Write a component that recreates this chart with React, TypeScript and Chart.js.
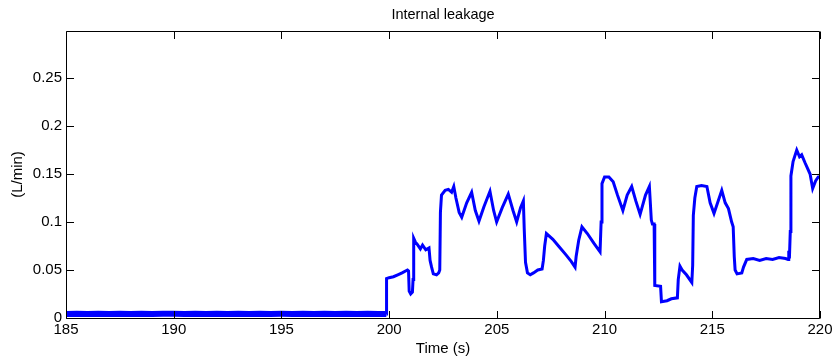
import React, { useEffect, useRef } from "react";
import { Chart, registerables } from "chart.js";

Chart.register(...registerables);

const chartTitle = "Internal leakage";

const baseTimes = [
  185, 185.5, 186, 186.5, 187, 187.5, 188, 188.5, 189, 189.5, 190, 190.5, 191, 191.5,
  192, 192.5, 193, 193.5, 194, 194.5, 195, 195.5, 196, 196.5, 197, 197.5, 198, 198.5,
  199, 199.5, 199.87,
];
const baseValues = [
  0.0042, 0.0044, 0.0041, 0.0043, 0.0042, 0.0044, 0.0041, 0.0043, 0.0042, 0.0045, 0.0043, 0.0042,
  0.0044, 0.0042, 0.0043, 0.0041, 0.0043, 0.0042, 0.0044, 0.0042, 0.0043, 0.0042, 0.0044, 0.0041,
  0.0043, 0.0042, 0.0043, 0.0041, 0.0043, 0.0042, 0.0042,
];

const leakTimes = [
  199.88, 200.0, 200.2, 200.4, 200.6, 200.85, 200.9, 200.93, 201.0, 201.08, 201.11, 201.14,
  201.22, 201.3, 201.45, 201.55, 201.7, 201.85, 201.9, 201.97, 202.05, 202.2, 202.3, 202.35,
  202.38, 202.43, 202.6, 202.75, 202.9, 203.0, 203.1, 203.25, 203.37, 203.6, 203.83, 204.0,
  204.17, 204.4, 204.68, 204.85, 204.99, 205.25, 205.53, 205.75, 205.92, 206.1, 206.23, 206.27,
  206.33, 206.42, 206.55, 206.7, 206.9, 207.1, 207.16, 207.22, 207.3, 207.6, 207.9, 208.2,
  208.45, 208.63, 208.68, 208.8, 208.95, 209.2, 209.5, 209.79, 209.84, 209.88, 210.0, 210.2,
  210.4, 210.6, 210.85, 211.05, 211.26, 211.45, 211.65, 211.9, 212.08, 212.17, 212.22, 212.3,
  212.33, 212.6, 212.64, 212.9, 213.1, 213.38, 213.42, 213.5, 213.6, 213.8, 214.05, 214.09,
  214.12, 214.19, 214.28, 214.5, 214.75, 214.9, 215.08, 215.44, 215.6, 215.75, 215.9, 215.97,
  216.02, 216.06, 216.15, 216.37, 216.45, 216.6, 216.9, 217.2, 217.5, 217.8, 218.1, 218.4,
  218.52, 218.55, 218.58, 218.62, 218.65, 218.75, 218.92, 219.05, 219.15, 219.3, 219.54, 219.66,
  219.8, 219.92, 220.0,
];
const leakValues = [
  0.041, 0.042, 0.043, 0.045, 0.047, 0.05, 0.049, 0.028, 0.025, 0.027, 0.04, 0.083,
  0.079, 0.077, 0.072, 0.076, 0.071, 0.073, 0.06, 0.053, 0.046, 0.045, 0.047, 0.05,
  0.11, 0.128, 0.133, 0.134, 0.131, 0.137, 0.125, 0.11, 0.105, 0.12, 0.131, 0.112,
  0.101, 0.116, 0.132, 0.112, 0.1, 0.115, 0.129, 0.112, 0.1, 0.115, 0.122, 0.093,
  0.058, 0.047, 0.045, 0.047, 0.05, 0.051, 0.06, 0.075, 0.088, 0.082, 0.074, 0.066,
  0.059, 0.053, 0.064, 0.081, 0.095, 0.088, 0.078, 0.069, 0.1, 0.14, 0.147, 0.147,
  0.142, 0.128, 0.112, 0.128, 0.137, 0.122, 0.108, 0.128, 0.137, 0.102, 0.098, 0.098,
  0.034, 0.033, 0.017, 0.018, 0.02, 0.021, 0.04, 0.054, 0.05, 0.045, 0.037, 0.055,
  0.107, 0.125, 0.137, 0.138, 0.137, 0.12, 0.109, 0.133, 0.12, 0.114, 0.1, 0.095,
  0.064, 0.05, 0.046, 0.047, 0.053, 0.061, 0.062, 0.06, 0.062, 0.061, 0.063, 0.062,
  0.061, 0.07, 0.062, 0.09, 0.148, 0.163, 0.175, 0.168, 0.17, 0.162, 0.15, 0.135,
  0.143, 0.147, 0.147,
];

const xTickValues = [185, 190, 195, 200, 205, 210, 215, 220];
const yTickValues = [0, 0.05, 0.1, 0.15, 0.2, 0.25];

const FONT = "'Liberation Sans', Arial, Helvetica, sans-serif";

const matlabBox = {
  id: "matlabBox",
  afterDatasetsDraw(chart: any) {
    const { ctx, chartArea } = chart;
    const { left, right, top, bottom } = chartArea;
    const xs = chart.scales.x;
    const ys = chart.scales.y;
    const L = 7.5;
    ctx.save();
    ctx.strokeStyle = "#000";
    ctx.lineWidth = 1;
    const l = Math.round(left) + 0.5;
    const r = Math.round(right) - 0.5;
    const t = Math.round(top) + 0.5;
    const b = Math.round(bottom) + 0.5;
    ctx.beginPath();
    ctx.rect(l, t, r - l, b - t);
    ctx.stroke();
    ctx.beginPath();
    xTickValues.forEach((v) => {
      const px = Math.round(xs.getPixelForValue(v)) + 0.5;
      ctx.moveTo(px, b);
      ctx.lineTo(px, b - L);
      ctx.moveTo(px, t);
      ctx.lineTo(px, t + L);
    });
    yTickValues.forEach((v) => {
      const py = Math.round(ys.getPixelForValue(v)) + 0.5;
      ctx.moveTo(l, py);
      ctx.lineTo(l + L, py);
      ctx.moveTo(r, py);
      ctx.lineTo(r - L, py);
    });
    ctx.stroke();
    ctx.fillStyle = "#000";
    ctx.font = `14.5px ${FONT}`;
    ctx.textAlign = "center";
    ctx.textBaseline = "middle";
    ctx.fillText(chartTitle, (left + right) / 2, 14.5);
    ctx.restore();
  },
};

export default function App() {
  const ref = useRef<HTMLCanvasElement | null>(null);
  useEffect(() => {
    if (!ref.current) return;
    const points = [
      ...baseTimes.map((t, i) => ({ x: t, y: baseValues[i] })),
      ...leakTimes.map((t, i) => ({ x: t, y: leakValues[i] })),
    ];
    const chart = new Chart(ref.current, {
      type: "line",
      data: {
        datasets: [
          {
            data: points,
            borderColor: "#0000ff",
            borderWidth: 3,
            pointRadius: 0,
            tension: 0,
            fill: false,
            segment: {
              borderWidth: (c: any) => (c.p1.parsed.x < 199.88 ? 6 : 3),
            },
          },
        ],
      },
      options: {
        animation: false,
        responsive: false,
        layout: { padding: { left: 0, right: 17, top: 31, bottom: 0 } },
        plugins: {
          legend: { display: false },
          tooltip: { enabled: false },
          title: { display: false },
        },
        scales: {
          x: {
            type: "linear",
            min: 185,
            max: 220,
            afterFit: (s: any) => {
              s.height = 42;
            },
            afterBuildTicks: (s: any) => {
              s.ticks = xTickValues.map((v) => ({ value: v }));
            },
            grid: { display: false, drawTicks: false },
            border: { display: false },
            ticks: {
              color: "#000",
              padding: 3,
              maxRotation: 0,
              autoSkip: false,
              font: { family: FONT, size: 15 },
              callback: (v: any) => String(v),
            },
            title: {
              display: true,
              text: "Time (s)",
              color: "#000",
              font: { family: FONT, size: 15 },
              padding: { top: 0, bottom: 2 },
            },
          },
          y: {
            type: "linear",
            min: 0,
            max: 0.299,
            afterFit: (s: any) => {
              s.width = 66;
            },
            afterBuildTicks: (s: any) => {
              s.ticks = yTickValues.map((v) => ({ value: v }));
            },
            grid: { display: false, drawTicks: false },
            border: { display: false },
            ticks: {
              color: "#000",
              padding: 4,
              autoSkip: false,
              font: { family: FONT, size: 15 },
              callback: (v: any) => String(Number(Number(v).toFixed(2))),
            },
            title: {
              display: true,
              text: "(L/min)",
              color: "#000",
              font: { family: FONT, size: 15 },
              padding: { top: 8.5, bottom: 0 },
            },
          },
        },
      },
      plugins: [matlabBox],
    });
    return () => chart.destroy();
  }, []);
  return (
    <div style={{ position: "fixed", left: 0, top: 0, width: 837, height: 360, background: "#fff" }}>
      <canvas ref={ref} width={837} height={360} style={{ width: 837, height: 360 }} />
    </div>
  );
}
